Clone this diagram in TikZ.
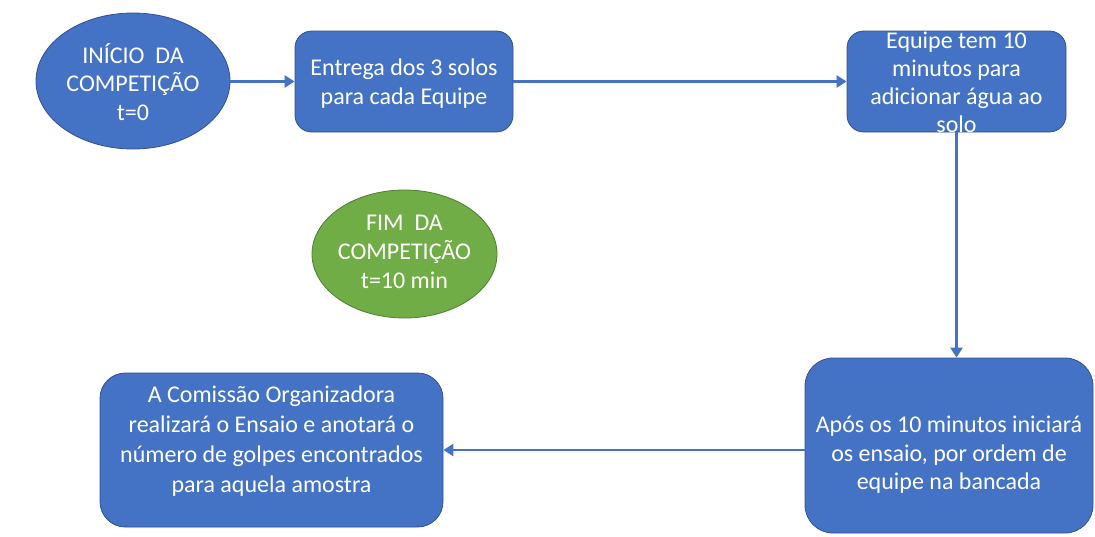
\documentclass[tikz,border=0pt]{standalone}
\usepackage{fontspec}
\setmainfont{Carlito}
\usetikzlibrary{arrows.meta,shapes.geometric}
\definecolor{boxblue}{HTML}{4472C4}
\definecolor{boxedge}{HTML}{2F528F}
\definecolor{boxgreen}{HTML}{70AD47}
\definecolor{greenedge}{HTML}{507E32}
\begin{document}
\begin{tikzpicture}[x=0.75pt,y=-0.75pt,
  shapebase/.style={draw=boxedge, fill=boxblue, line width=0.6pt, inner sep=0pt},
  roundbox/.style={shapebase, rectangle},
  oval/.style={shapebase, ellipse},
  greenoval/.style={oval, draw=greenedge, fill=boxgreen},
  label/.style={text=white, align=center, font=\fontsize{18}{21.5}\selectfont, inner sep=0pt},
  flow/.style={draw=boxblue, line width=2.2pt, -{Triangle[width=9pt,length=7.5pt]}}]
\useasboundingbox (0,0) rectangle (1095,536);

\node[oval, minimum width=145.5pt, minimum height=102pt] (e1) at (133,81) {};
\node[roundbox, rounded corners=12.5pt, minimum width=163.5pt, minimum height=75.75pt] (b2) at (404,81.5) {};
\node[roundbox, rounded corners=12.5pt, minimum width=164.25pt, minimum height=75.75pt] (b3) at (956.5,81.5) {};
\node[greenoval, minimum width=138.75pt, minimum height=96pt] (e2) at (404.5,254) {};
\node[roundbox, rounded corners=19pt, minimum width=257.25pt, minimum height=115.5pt] (b4) at (271.5,450) {};
\node[roundbox, rounded corners=21pt, minimum width=216pt, minimum height=131.25pt] (b5) at (949,445.5) {};

\node[label] (t1) at (133,82) {INÍCIO\ \ DA\\COMPETIÇÃO\\t=0};
\node[label] (t2) at (404,83.5) {Entrega dos 3 solos\\para cada Equipe};
\node[label, font=\fontsize{18}{21}\selectfont] (t3) at (956.5,82) {Equipe tem 10\\minutos para\\adicionar água ao\\solo};
\node[label] (t4) at (404.5,252) {FIM\ \ DA\\COMPETIÇÃO\\t=10 min};
\node[label, font=\fontsize{18}{22.5}\selectfont] (t5) at (271.5,441) {A Comissão Organizadora\\realizará o Ensaio e anotará o\\número de golpes encontrados\\para aquela amostra};
\node[label] (t6) at (949,455) {Após os 10 minutos iniciará\\os ensaio, por ordem de\\equipe na bancada};

\draw[flow] (e1.east |- b2.west) -- (b2.west);
\draw[flow] (b2.east) -- (b3.west);
\draw[flow] (b3.south) -- (b3.south |- b5.north);
\draw[flow] (b5.west |- b4.east) -- (b4.east);
\end{tikzpicture}
\end{document}
